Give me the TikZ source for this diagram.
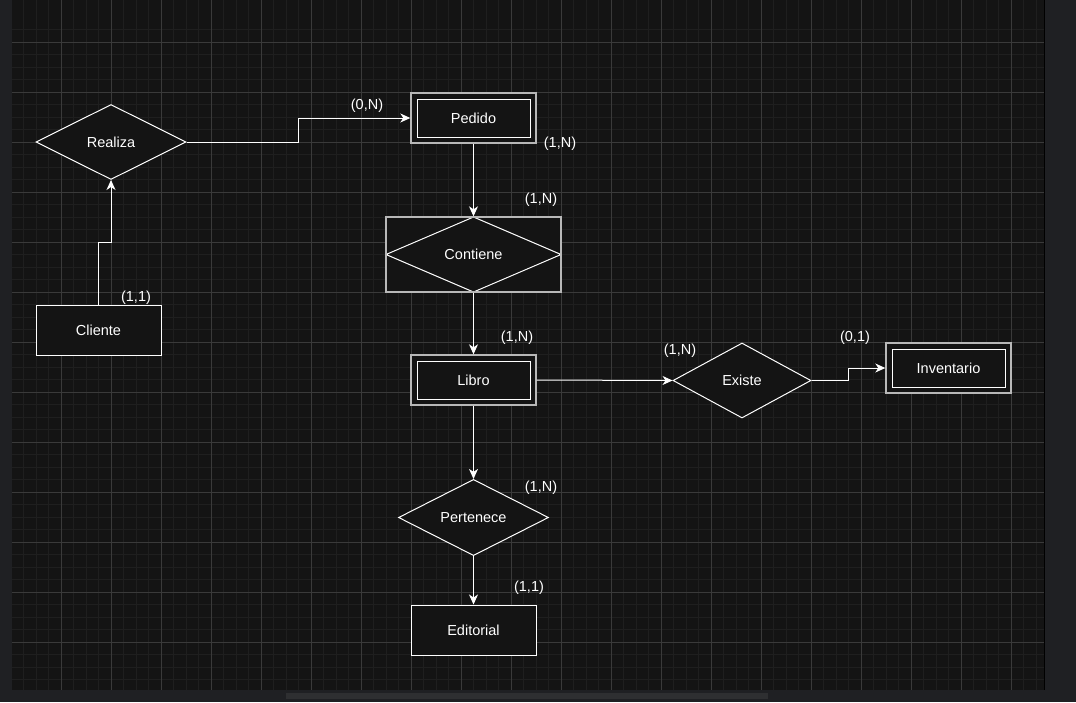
\documentclass[tikz,border=0pt]{standalone}
\usepackage{fontspec}
\setmainfont{Liberation Sans}
\usetikzlibrary{arrows.meta,shapes.geometric,calc}
\definecolor{canvasbg}{HTML}{141414}
\definecolor{framebg}{HTML}{1F2023}
\definecolor{minorgrid}{HTML}{1F1F1F}
\definecolor{majorgrid}{HTML}{3A3A3A}
\definecolor{outergray}{HTML}{B8B8B8}
\definecolor{scrollbar}{HTML}{2E2F31}
\tikzset{
  txt/.style={text=white, font=\fontsize{14.5}{17}\selectfont},
  entity/.style={txt, rectangle, draw=white, line width=1pt, fill=canvasbg,
    minimum width=125pt, minimum height=50pt, inner sep=0pt},
  weakentity/.style={txt, rectangle, draw=outergray, line width=1.4pt, fill=canvasbg,
    minimum width=125pt, minimum height=50pt, inner sep=0pt,
    path picture={\draw[white,line width=1pt]
      ([shift={(6pt,6pt)}]path picture bounding box.south west) rectangle
      ([shift={(-6pt,-6pt)}]path picture bounding box.north east);}},
  rel/.style={txt, diamond, draw=white, line width=1pt, fill=canvasbg,
    minimum width=150pt, minimum height=75pt, inner sep=0pt},
  idrel/.style={txt, rectangle, draw=outergray, line width=1.4pt, fill=canvasbg,
    minimum width=175pt, minimum height=75pt, inner sep=0pt,
    path picture={\draw[white,line width=1pt]
      (path picture bounding box.west) -- (path picture bounding box.north) --
      (path picture bounding box.east) -- (path picture bounding box.south) -- cycle;}},
  conn/.style={draw=white, line width=1pt, -{Stealth[length=10pt,width=9pt,inset=3pt]}},
  card/.style={txt, inner sep=0pt}
}
\begin{document}
\begin{tikzpicture}[x=1pt,y=-1pt]
\useasboundingbox (0,0) rectangle (1076,702);
% frame and canvas
\fill[framebg] (0,0) rectangle (1076,702);
\fill[canvasbg] (12,0) rectangle (1044,690);
\fill[black] (1044,0) rectangle (1045,690);
\fill[scrollbar] (286,692.5) rectangle (768,698.5);
% grid
\begin{scope}
\clip (12,0) rectangle (1044,690);
\foreach \i in {0,...,83} \draw[minorgrid,line width=0.8pt] ({11+12.5*\i},0) -- ({11+12.5*\i},690);
\foreach \i in {-1,...,55} \draw[minorgrid,line width=0.8pt] (12,{42+12.5*\i}) -- (1044,{42+12.5*\i});
\foreach \x in {11,61,...,1011} \draw[majorgrid,line width=0.8pt] (\x,0) -- (\x,690);
\foreach \y in {42,92,...,642} \draw[majorgrid,line width=0.8pt] (12,\y) -- (1044,\y);
\end{scope}
% nodes
\node[rel] (realiza) at (111,142) {Realiza};
\node[entity] (cliente) at (98.5,330) {Cliente};
\node[weakentity] (pedido) at (473.5,118) {Pedido};
\node[idrel] (contiene) at (473.5,254.5) {Contiene};
\node[weakentity] (libro) at (473.5,380) {Libro};
\node[rel, minimum width=138pt] (existe) at (742,380.5) {Existe};
\node[weakentity] (inventario) at (948.5,368) {Inventario};
\node[rel] (pertenece) at (473.5,517.5) {Pertenece};
\node[entity] (editorial) at (473.5,630) {Editorial};
% connectors
\draw[conn] (cliente.north) |- (111,242) -- (realiza.south);
\draw[conn] (realiza.east) -- (298,142) |- (pedido.west);
\draw[conn] (pedido.south) -- (contiene.north);
\draw[conn] (contiene.south) -- (libro.north);
\draw[conn] (libro.east) -- (existe.west);
\draw[conn] (existe.east) -- (848,380.5) |- (inventario.west);
\draw[conn] (libro.south) -- (pertenece.north);
\draw[conn] (pertenece.south) -- (editorial.north);
% cardinalities
\node[card] (c1) at (367,106) {(0,N)};
\node[card] (c2) at (560,144) {(1,N)};
\node[card] (c3) at (541,200) {(1,N)};
\node[card] (c4) at (136,298) {(1,1)};
\node[card] (c5) at (517,338) {(1,N)};
\node[card] (c6) at (680,351) {(1,N)};
\node[card] (c7) at (855,338) {(0,1)};
\node[card] (c8) at (541,488) {(1,N)};
\node[card] (c9) at (529,588) {(1,1)};
\end{tikzpicture}
\end{document}
